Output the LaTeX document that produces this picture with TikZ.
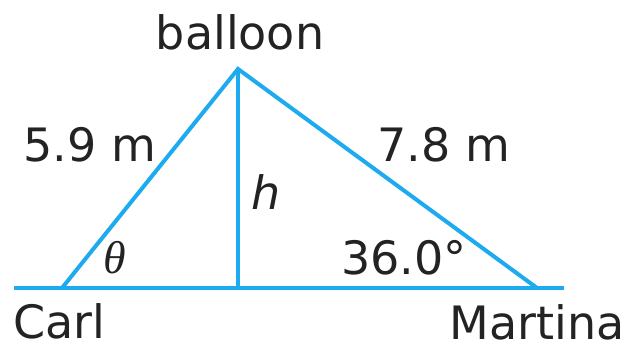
\documentclass[tikz,border=0pt]{standalone}
\usepackage{fontspec}
\setmainfont{DejaVu Sans}
\newfontfamily\thetafont{Liberation Serif}
\definecolor{skyline}{RGB}{30,170,238}
\definecolor{txt}{RGB}{35,35,35}
\begin{document}
\begin{tikzpicture}[x=1pt,y=1pt,
  seg/.style={draw=skyline,line width=4pt,line cap=butt,line join=miter},
  lbl/.style={text=txt,font=\fontsize{46}{54}\selectfont,inner sep=0pt,anchor=base}]
\useasboundingbox (0,0) rectangle (631,352);
\coordinate (L) at (14,64);
\coordinate (R) at (564,64);
\coordinate (C) at (62,64);
\coordinate (M) at (537,64);
\coordinate (B) at (238,283);
\coordinate (F) at (238,64);
\draw[seg] (L) -- (R);
\draw[seg] (C) -- (B) -- (M);
\draw[seg] (B) -- (F);
\node[lbl] (balloon) at (240,302) {balloon};
\node[lbl] (a) at (90,190) {5.9 m};
\node[lbl] (b) at (444,190) {7.8 m};
\node[lbl,font=\fontsize{46}{54}\selectfont\itshape] (h) at (266,142) {h};
\node[lbl,font=\fontsize{46}{54}\thetafont\itshape] (th) at (115,78) {θ};
\node[lbl] (ang) at (404,77) {36.0°};
\node[lbl] (carl) at (59,13) {Carl};
\node[lbl] (mart) at (537,12) {Martina};
\end{tikzpicture}
\end{document}
